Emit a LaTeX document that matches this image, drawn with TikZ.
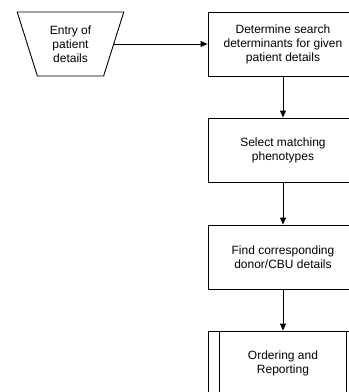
\documentclass[tikz,border=0pt]{standalone}
\usepackage{fontspec}
\setmainfont{Liberation Sans}
\usetikzlibrary{shapes.geometric,arrows.meta}
\tikzset{
  stepbox/.style={draw, line width=0.9pt, minimum width=150pt, minimum height=64pt, align=center, font=\fontsize{12}{14}\selectfont},
  entrybox/.style={draw, line width=0.9pt, trapezium, trapezium stretches=true, shape border rotate=180, trapezium angle=71.4, minimum width=107pt, minimum height=64pt, align=center, font=\fontsize{12}{14}\selectfont},
  flow/.style={draw, line width=0.9pt, -{Triangle[length=7pt,width=6pt]}}
}
\begin{document}
\begin{tikzpicture}[x=1pt,y=-1pt]
        \useasboundingbox (0,0) rectangle (349,392);
        \clip (0,0) rectangle (349,392);

        % Draw entry
        \node[entrybox] (entry) at (70.5,44) {Entry of\\patient\\details};

        % Draw steps
        \node[stepbox] (determine) at (283,44) {Determine search\\determinants for given\\patient details};
        \node[stepbox] (select) at (283,150) {Select matching\\phenotypes};
        \node[stepbox] (find) at (283,257) {Find corresponding\\donor/CBU details};
        \node[stepbox] (order) at (283,363) {Ordering and\\Reporting};
        \draw[line width=0.9pt] ([xshift=12pt]order.north west) -- ([xshift=12pt]order.south west);
        \draw[line width=0.9pt] ([xshift=-12pt]order.north east) -- ([xshift=-12pt]order.south east);

        % Draw arrows
        \draw[flow] (entry) -- (determine);
        \draw[flow] (determine) -- (select);
        \draw[flow] (select) -- (find);
        \draw[flow] (find) -- (order);
    \end{tikzpicture}
\end{document}
